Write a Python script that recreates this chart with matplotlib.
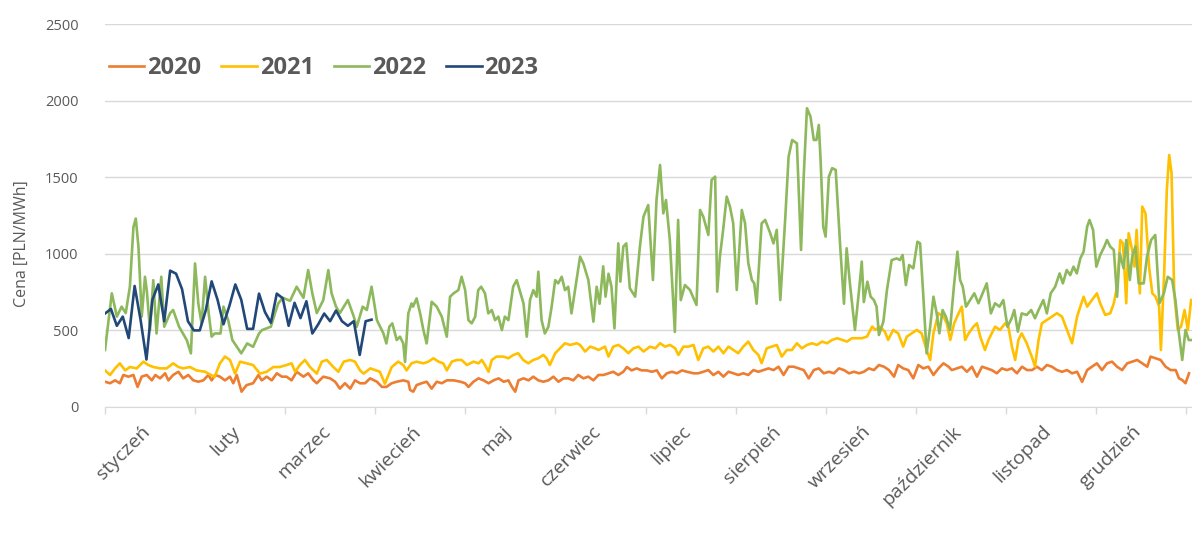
import matplotlib
matplotlib.use("Agg")
import matplotlib.pyplot as plt
import numpy as np

# ceny dzienne energii [PLN/MWh], dzien roku -> cena
dni_2020 = [0, 1.7, 3.4, 5, 6.2, 7.9, 9.6, 11, 12.4, 14.1, 15.8, 17, 18.6, 20.3, 21.4, 23, 24.8, 26.4, 28.1, 29.8,
            31.5, 33.2, 34.9, 36, 37.2, 38.8, 40.5, 42.2, 43.3, 44.5, 46.1, 47.8, 50, 51.8, 52.9, 54.6, 56.3, 58,
            59.7, 61.3, 63, 64.7, 67, 68.6, 70.4, 71.5, 73.7, 76, 77.7, 79.3, 81, 82.8, 84.4, 86.1, 87.8, 89.5,
            91.8, 93.5, 95, 96.8, 98.5, 100.7, 102.4,
            103, 104.1, 105.2, 106.9, 108.6, 110.3, 112, 113.7, 115.4, 117.7, 120, 121.6, 122.7, 124.4, 126.1,
            127.8, 129.5, 131.2, 132.9, 134.6, 136.2, 137.4, 138.5, 139.6, 141.3, 143, 144.6, 146.3, 148, 149.7,
            151.4, 153.1, 154.8, 156.4, 158.1, 159.8, 161.5, 163.2, 164.9, 166.6, 168.3, 170, 171.6, 173.3, 175,
            176.2, 177.8, 179.5, 181.2, 182.9, 184.6, 186.3, 188, 189.7, 191.4, 193.1, 194.8, 196.5, 198.7,
            200.3, 202, 203.7, 205.4, 207.1, 208.8, 210.5, 212.2, 213.8, 215.5, 217.2, 218.9, 220.6, 222.3, 224,
            225.7, 227.4, 229.1, 230.8, 232.5, 234.2, 235.9, 237.6, 239.3, 241, 242.7, 244.4, 246.1, 247.8, 249.5,
            251.2, 252.9, 254.6, 256.2, 257.9, 259.6, 261.3, 263, 264.7, 266.4,
            267.8, 269.5, 271.2, 272.9, 274.6, 276.3, 278, 279.7, 281.4, 283.1, 284.8, 285.9, 287.6, 289.3, 291,
            292.7, 294.4, 296.1, 297.8, 299.4, 301.1, 302.8, 304.5, 306.2, 307.9, 309.6, 311.3, 313, 314.6, 316.3,
            318, 319.7, 321.4, 323.1, 324.8, 326.5, 328.2, 329.9, 331.6, 333.2, 334.9, 336.6, 338.3, 340, 341.7,
            343.4, 345.1, 346.8, 348.5, 350.2, 351.9, 353, 354.7, 356.4, 358.1, 359.8, 361.5, 362.6, 363.7, 364.8, 366]
ceny_2020 = [165, 155, 174, 155, 209, 198, 209, 131, 198, 209, 174, 209, 187, 220, 174, 209, 230, 187, 209, 174,
             165, 174, 209, 174, 209, 198, 174, 198, 155, 209, 100, 143, 155, 209, 174, 198, 174, 220,
             198, 198, 174, 230, 198, 220, 174, 155, 198, 187, 165, 120, 155, 120, 174, 155, 155, 187,
             165, 131, 131, 155, 165, 174, 165,
             111, 100, 143, 155, 165, 120, 165, 155, 174, 174, 165, 155, 131, 165, 187,
             174, 155, 174, 187, 165, 174, 131, 100, 174, 187, 174, 198, 174, 165, 174,
             198, 165, 187, 187, 174, 209, 187, 198, 174, 209, 209, 220, 230, 209, 230,
             261, 239, 252, 239, 239, 230, 239, 187, 220, 230, 220, 239, 230, 220,
             220, 230, 241, 209, 230, 198, 230, 220, 209, 220, 209, 241, 230, 241, 252,
             241, 263, 209, 263, 263, 252, 241, 187, 241, 252, 220, 230, 220, 252, 241,
             220, 230, 220, 230, 252, 241, 274, 263, 241, 198,
             274, 252, 241, 187, 274, 252, 263, 209, 252, 285, 263, 241, 252, 263, 230,
             263, 198, 263, 252, 241, 220, 252, 241, 252, 220, 263, 241, 241, 263, 241,
             274, 263, 241, 230, 241, 220, 230, 164, 241, 263, 285, 241, 285, 296, 263,
             241, 285, 296, 307, 285, 263, 329, 318, 307, 263, 241, 241, 187, 176, 155, 220]

dni_2021 = [0, 1.7, 3.4, 5, 6.8, 8.4, 10.7, 13, 14.6, 16.3, 18.6, 20.8, 23, 24.8, 26.4, 28.7, 30.9, 33.8, 37, 38.8,
            40.5, 42.2, 43.9, 45.6, 47.8, 50, 52.3, 54.6, 56.8, 59, 61.3, 63, 64.2, 65.8, 67.5, 69.2, 71.5, 73.2,
            74.9, 77.1, 78.8, 80.6, 82.8, 84.4, 86.1, 87.3, 89.6,
            92.8, 94.5, 96.8, 99, 100.7, 101.8, 103.5, 105.2, 107.5, 109.2, 110.9, 112.6, 114.2, 115.4, 117.1,
            118.8, 120.4, 122.2, 124.4, 126.1, 127.2, 128.3, 129.5, 130.6, 132.2, 134.5, 136.2, 137.9, 139.5,
            141.2, 142.9, 144.6, 146.3, 148, 149.1, 150.2, 152, 153.6, 155.3, 157, 159.3, 160.4, 162.1, 163.8,
            165.5, 166.6,
            168.8, 170, 171.6, 173.3, 175, 176.7, 178.4, 180.1, 181.8, 184, 185.8, 187.4, 189.1, 190.8, 192.5,
            193.6, 195.3, 197, 198.7, 200.3, 202, 203.7, 205.4, 207.1, 208.8, 210.5, 212.2, 213.8, 215.5, 217.2,
            218.9, 220.6, 221.7, 223.4, 225.1, 226.8, 228.5, 230.2, 231.9, 233.6, 235.3, 237, 238.7, 240.4, 242.1,
            243.8, 245.5, 247.2, 248.8, 250.5, 252.2, 253.9, 255.6, 257.3, 259, 260.1,
            261.6, 263.3, 264.4, 266.1, 267.8, 269.5, 270.7, 272.4, 274.1, 275.7, 277.4, 278.6, 279.7, 281.4,
            283.1, 284.2, 285.4, 286.7, 288.2, 289.3, 290.4, 291.6, 293.2, 294.4, 295.5, 297.1, 298.3, 299.4,
            300.5, 302.2, 303.9, 305, 306.2, 307.3, 308.4, 309.5, 311.2, 312.9, 314, 315.2, 316.3, 318, 319.7,
            321.4, 323.1, 324.8, 326.5, 328.2, 329.3, 330.4, 331.6, 333.2, 334.9, 336, 337.7, 339.4, 340.6,
            341.7, 342.8, 343.7, 344.8, 345.6, 346.8, 347.6, 348.3, 349.4, 350.2, 351.3, 352.5, 353.6, 354.7,
            355.9, 356.5, 357.6, 358.5, 359.3, 360.1, 361, 362.2, 363.3, 364.5, 365.6, 366.7]
ceny_2021 = [239, 209, 252, 285, 239, 261, 252, 296, 274, 261, 252, 252, 285, 261, 252, 261, 239, 230, 196, 285,
             329, 307, 218, 296, 285, 274, 218, 230, 261, 261, 274, 285, 230, 274, 307, 261, 218, 296,
             307, 261, 230, 296, 307, 296, 239, 218, 252,
             230, 152, 261, 296, 274, 239, 285, 296, 285, 296, 318, 296, 285, 239, 296,
             307, 307, 274, 296, 285, 307, 274, 230, 307, 329, 329, 318, 340, 351,
             307, 285, 307, 318, 340, 318, 274, 351, 383, 416, 405, 416, 405, 362, 394,
             383, 372,
             394, 329, 394, 405, 383, 351, 383, 394, 362, 394, 383, 416, 394, 405, 383,
             340, 394, 394, 405, 307, 383, 394, 362, 394, 351, 394, 372, 351, 394, 427,
             372, 340, 286, 383, 394, 405, 329, 372, 372, 416, 383, 405, 416, 405, 427,
             416, 438, 449, 438, 427, 449, 449, 449, 460, 525, 503,
             524, 492, 438, 503, 481, 394, 459, 481, 503, 481, 372, 307, 481, 612,
             590, 546, 438, 546, 612, 655, 438, 481, 524, 546, 459, 372, 438, 481,
             524, 503, 546, 524, 394, 307, 438, 481, 416, 329, 264, 438, 546, 568, 590,
             612, 590, 503, 416, 590, 655, 720, 655, 698, 742, 677, 601, 612, 677,
             785, 1090, 1068, 677, 1134, 1025, 916, 1156, 742, 1308, 1264, 916, 742, 720,
             655, 372, 872, 1417, 1645, 1526, 742, 503, 524, 633, 503, 698]

dni_2022 = [0, 2.3, 4, 5.6, 7, 8.4, 9.6, 10.4, 11.3, 12.4, 13.5, 14.1, 15.2, 16.3, 17.4, 19, 20, 22, 23, 25, 27.6,
            29, 30.4, 31.5, 32.6, 33.8, 35, 36, 37, 39, 40, 41.6, 43, 44.5, 46, 48, 50, 52, 53, 56, 57.4, 58.5,
            60, 62.5, 64.7, 67, 68.6, 70, 71.5, 72.6, 73.7, 75.4, 76.5, 78, 79.3, 82, 84, 85, 87, 88.4, 90, 91.8,
            94, 95, 96, 97, 98.5, 99.6, 100.7, 101.3, 102.4, 103.5, 104, 105.2, 106.4, 107.5, 108.6, 110.3, 112,
            113.7, 115.4, 116.5, 117.7, 119.3, 120.4, 121.6, 122.7, 123.8, 125, 126, 127, 128.3, 129.4, 130.6,
            131.7, 132.8, 134, 135, 136.2, 137.8, 139, 140, 141.3, 142.4, 143.5, 144.6, 145.7, 146.3, 147.4,
            148.5, 149.7, 150.8, 152, 153, 154.2, 155.3, 156.4, 157.5, 158.7, 160.4, 161.5, 163.2, 164.9, 166,
            167, 168.2, 169, 170, 171, 172, 173.3, 174, 175, 176, 177.2, 179, 180.6, 181.8, 183.4, 185, 186.2,
            187.4, 188.5, 189.4, 190.7, 192.4, 193.5, 194.4, 195.8, 197.5, 199.7, 200.9, 202, 203.7, 204.8, 206,
            206.7, 207.6, 208.7, 209.9, 211, 212.1, 213.3, 215, 216.1, 217.2, 218.4, 219.2, 220, 221.7, 222.9,
            224.6, 225.7, 226.8, 228, 229.7, 230.8, 232, 233.6, 235, 235.9, 237, 238.2, 239.3, 240.2, 241, 241.6,
            242.5, 243.3, 244.4, 245.5, 246.7, 248.3, 249.5, 250.4, 251.5, 253.2, 254.6, 255.5, 256.2, 257.4,
            258.5, 259.6, 260.5, 261.3,
            262.8, 264, 265.6, 267.3, 268.4, 269.3, 270.4, 271.5, 272.9, 274.3, 275.2, 276.3, 277.4, 278.6,
            279.7, 280.8, 281.7, 282.8, 283.9, 285.3, 286.6, 287.8, 288.7, 289.6, 290.7, 292.1, 293.5, 294.9,
            296.3, 297.7, 299.1, 300.5, 302, 303.3, 304.7, 306.1, 307, 308.2, 309.5, 311.2, 312.7, 314, 315.2,
            316.8, 318, 319.3, 320.8, 322.3, 323.4, 324.7, 325.9, 327, 328.1, 329.3, 330.4, 331.6, 332.4, 333.6,
            334.7, 336, 337.4, 338.3, 339.4, 340.6, 341.7, 342.6, 343.9, 344.8, 346, 346.8, 347.9, 349, 350.7,
            351.8, 353.2, 354.6, 356, 357.5, 358.8, 360.3, 361.4, 362.5, 363.7, 364.8, 365.9, 367]
ceny_2022 = [372, 742, 590, 655, 613, 785, 1175, 1230, 1044, 590, 850, 763, 502, 828, 480, 850, 524, 613, 633, 524, 437,
             350, 937, 676, 545, 850, 613, 459, 480, 480, 655, 567, 437, 393, 350, 415, 393, 480, 502, 524, 613, 676,
             713, 693, 785, 713, 894, 742, 613, 655, 698, 894, 742, 655, 613, 698, 590, 524, 655, 633, 785, 567,
             480, 415, 524, 546, 437, 459, 415, 294, 611, 676, 655, 709, 611, 502, 415, 687, 655,
             590, 459, 720, 742, 763, 850, 763, 567, 546, 590, 763, 785, 742, 611, 633,
             567, 590, 502, 590, 567, 785, 828, 763, 676, 459, 698, 763, 720, 883, 567,
             480, 524, 655, 828, 807, 850, 763, 785, 611, 763, 981, 937, 828, 557, 785,
             674, 918, 720, 870, 785, 513, 1068, 818, 1047, 1068, 775, 720, 1047, 1242, 1318, 829, 1351,
             1580, 1264, 1351, 1090, 490, 1221, 698, 796, 764, 666, 1286, 1242, 1123, 1482, 1504,
             753, 981, 1156, 1373, 1308, 1199, 764, 1286, 1199, 938, 829, 807, 674, 1199, 1221,
             1134, 1068, 1156, 698, 1242, 1634, 1743, 1721, 1025, 1504, 1950, 1895, 1743, 1743, 1841, 1613,
             1177, 1112, 1504, 1559, 1548, 1025, 674, 1036, 807, 503, 764, 949, 685, 818,
             720, 698, 655, 470,
             557, 763, 959, 970, 959, 992, 796, 927, 905, 1079, 1068, 720, 350, 524,
             720, 611, 481, 633, 590, 503, 785, 1014, 829, 785, 655, 698, 742, 677,
             742, 807, 611, 677, 655, 698, 524, 579, 633, 492, 611, 601, 633, 579, 633,
             698, 611, 742, 785, 872, 807, 894, 861, 916, 872, 970, 1014, 1177, 1221, 1156,
             916, 992, 1047, 1090, 1047, 1025, 720, 1003, 905, 1090, 829, 981, 1047, 807, 807,
             981, 1090, 1123, 677, 742, 850, 829, 698, 492, 307, 503, 437, 437]

dni_2023 = [0, 2, 4, 6, 8, 10, 12, 14, 16, 18, 20, 22, 24, 26, 28, 30, 32, 34, 36, 38, 40, 42, 44,
            46, 48, 50, 52, 54, 56, 58, 60, 62, 64, 66, 68, 70, 72, 74, 76, 78, 80, 82, 84, 86, 88, 90]
ceny_2023 = [610, 640, 530, 590, 450, 790, 570, 310, 700, 800, 560, 890, 870, 770, 560, 500, 500, 630, 820,
             700, 540, 660, 800, 700, 510, 510, 740, 620, 550, 740, 710, 530, 680, 580, 690, 480, 540, 610,
             560, 630, 560, 530, 560, 340, 560, 570]

miesiace = ['styczeń', 'luty', 'marzec', 'kwiecień', 'maj', 'czerwiec', 'lipiec',
            'sierpień', 'wrzesień', 'październik', 'listopad', 'grudzień']

serie = [
    ('2020', dni_2020, ceny_2020, '#ED7D31'),
    ('2021', dni_2021, ceny_2021, '#FFC000'),
    ('2022', dni_2022, ceny_2022, '#8DB85C'),
    ('2023', dni_2023, ceny_2023, '#22487A'),
]

szary = '#595959'
siatka = '#D9D9D9'

plt.rcParams['font.family'] = ['Open Sans', 'DejaVu Sans']

W, H = 1192, 534
fig = plt.figure(figsize=(W / 100, H / 100), dpi=100)
ax = fig.add_axes([105 / W, 1 - 407 / H, 1 - 105 / W, (407 - 24) / H])

for nazwa, dni, ceny, kolor in serie:
    ax.plot(dni, ceny, color=kolor, lw=1.9, label=nazwa, solid_joinstyle='round')

dlugosc_roku = 365.0
ax.set_xlim(0, 367)
ax.set_ylim(0, 2500)

# os Y: tylko siatka co 500
ax.set_yticks(np.arange(0, 2501, 500))
ax.yaxis.grid(True, color=siatka, lw=1.0)
ax.set_axisbelow(True)
ax.tick_params(axis='y', length=0, pad=19, labelsize=10.5, labelcolor=szary)

# os X: kreski na granicach miesiecy, podpisy przy srodku miesiaca
granice = np.arange(13) * dlugosc_roku / 12
srodki = (np.arange(12) + 0.5) * dlugosc_roku / 12 - 3
ax.set_xticks(granice)
ax.set_xticklabels([''] * 13)
ax.tick_params(axis='x', which='major', length=5, width=1, color=siatka)
ax.set_xticks(srodki, minor=True)
ax.set_xticklabels(miesiace, minor=True, rotation=45, ha='right', va='top',
                   rotation_mode='anchor', fontsize=14, color=szary)
ax.tick_params(axis='x', which='minor', length=0, pad=11)

for s in ['top', 'right', 'left']:
    ax.spines[s].set_visible(False)
ax.spines['bottom'].set_color(siatka)

fig.text(22 / W, 1 - 244 / H, 'Cena [PLN/MWh]', rotation=90, ha='center', va='center',
         fontsize=11.5, color=szary)

leg = ax.legend(loc='center left', bbox_to_anchor=(4 / 1087, (407 - 68) / 383), ncol=4, frameon=False,
                borderaxespad=0, borderpad=0, handlelength=1.5, handletextpad=0.12, columnspacing=0.85,
                prop={'weight': 'bold', 'size': 17})
for t in leg.get_texts():
    t.set_color(szary)

fig.savefig('out.png', dpi=100)
